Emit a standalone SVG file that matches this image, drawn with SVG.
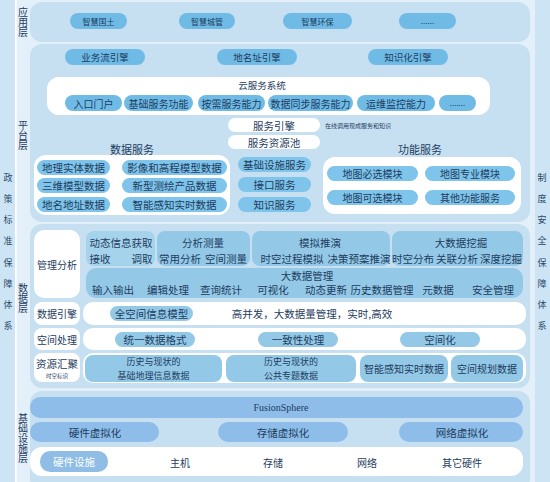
<svg xmlns="http://www.w3.org/2000/svg" width="550" height="482" viewBox="0 0 550 482">
<defs>
<style>
text{font-family:"Noto Sans CJK SC","Noto Sans",sans-serif;fill:#1e3c5e;font-size:10px;text-anchor:middle;dominant-baseline:central}
.panel{fill:#c6e0f2}
.btn{fill:#6fbbe6}
.btn2{fill:#7fc4ea}
.wh{fill:#ffffff}
.db{fill:#93c9e7}
.vb{fill:#8dbde8}
.strip{fill:#cde4f4}
.side{font-size:9px;fill:#2a4a6a}
.vert{font-size:10px;writing-mode:vertical-rl;text-anchor:start;dominant-baseline:central}
.s8{font-size:8px}
.s9{font-size:9px}
.s95{font-size:9.5px}
.s105{font-size:10.5px}
.s11{font-size:11px}
.tiny{font-size:6px;text-anchor:start}
.serif{font-family:"Liberation Serif",serif;font-size:10px}
</style>
</defs>
<rect x="0" y="0" width="550" height="482" fill="#e4f0f9"/>
<g id="left-strip">
<rect class="strip" x="0" y="0" width="15" height="482"/>
<rect x="15" y="0" width="1.5" height="482" fill="#ffffff"/>
<text class="side" x="8" y="177">政</text><text class="side" x="8" y="198">策</text><text class="side" x="8" y="219">标</text><text class="side" x="8" y="240">准</text><text class="side" x="8" y="262">保</text><text class="side" x="8" y="283">障</text><text class="side" x="8" y="304">体</text><text class="side" x="8" y="325">系</text>
</g>
<g id="right-strip">
<rect class="strip" x="535" y="0" width="15" height="482"/>
<text class="side" x="542" y="177">制</text><text class="side" x="542" y="198">度</text><text class="side" x="542" y="219">安</text><text class="side" x="542" y="240">全</text><text class="side" x="542" y="262">保</text><text class="side" x="542" y="283">障</text><text class="side" x="542" y="304">体</text><text class="side" x="542" y="325">系</text>
</g>
<g id="layer-labels">
<text class="vert" x="23" y="7">应用层</text>
<text class="vert" x="23" y="120">平台层</text>
<text class="vert" x="23" y="283">数据层</text>
<text class="vert" x="23" y="413">基础设施层</text>
</g>
<g id="app-layer">
<rect class="panel" x="30" y="2" width="500" height="40" rx="12"/>
<g id="app-1"><rect class="btn" x="70" y="13" width="57" height="16" rx="8"/><text class="s8" x="98.5" y="21">智慧国土</text></g>
<g id="app-2"><rect class="btn" x="179" y="13" width="56" height="16" rx="8"/><text class="s8" x="207" y="21">智慧城管</text></g>
<g id="app-3"><rect class="btn" x="283" y="13" width="69" height="16" rx="8"/><text class="s8" x="317.5" y="21">智慧环保</text></g>
<g id="app-4"><rect class="btn" x="399" y="13" width="57" height="16" rx="8"/><text class="s8" x="427.5" y="20">......</text></g>
</g>
<g id="platform-layer">
<rect class="panel" x="30" y="44" width="500" height="178" rx="12"/>
<g id="eng-1"><rect class="btn" x="65" y="49" width="80" height="16" rx="8"/><text class="s95" x="105" y="57">业务流引擎</text></g>
<g id="eng-2"><rect class="btn" x="217" y="49" width="80" height="16" rx="8"/><text class="s95" x="257" y="57">地名址引擎</text></g>
<g id="eng-3"><rect class="btn" x="368" y="49" width="80" height="16" rx="8"/><text class="s95" x="408" y="57">知识化引擎</text></g>
<g id="cloud">
<rect class="wh" x="47" y="77" width="443" height="38" rx="12"/>
<text class="s95" x="262" y="85">云服务系统</text>
<rect class="btn" x="65" y="95" width="57" height="16" rx="8"/><text x="93.5" y="103">入口门户</text>
<rect class="btn" x="124" y="95" width="69" height="16" rx="8"/><text x="158.5" y="103">基础服务功能</text>
<rect class="btn" x="198" y="95" width="67" height="16" rx="8"/><text x="231.5" y="103">按需服务能力</text>
<rect class="btn" x="268" y="95" width="85" height="16" rx="8"/><text x="310.5" y="103">数据同步服务能力</text>
<rect class="btn" x="357" y="95" width="78" height="16" rx="8"/><text x="396" y="103">运维监控能力</text>
<rect class="btn" x="439" y="95" width="37" height="16" rx="8"/><text class="s8" x="457.5" y="102">.......</text>
</g>
<g id="svc-engine"><rect class="wh" x="228" y="118" width="92" height="14" rx="7"/><text class="s105" x="274" y="125">服务引擎</text><text class="tiny" x="325" y="125">在线调用现成服务和知识</text></g>
<g id="svc-pool"><rect class="wh" x="228" y="135" width="92" height="14" rx="7"/><text class="s105" x="274" y="142">服务资源池</text></g>
<g id="data-services">
<text class="s11" x="132" y="149">数据服务</text>
<rect class="wh" x="34" y="155" width="196" height="60" rx="12"/>
<rect class="btn2" x="37" y="160" width="73" height="15" rx="7.5"/><text class="s105" x="73.5" y="167.5">地理实体数据</text>
<rect class="btn2" x="122" y="160" width="105" height="15" rx="7.5"/><text class="s105" x="174.5" y="167.5">影像和高程模型数据</text>
<rect class="btn2" x="37" y="178" width="73" height="15" rx="7.5"/><text class="s105" x="73.5" y="185.5">三维模型数据</text>
<rect class="btn2" x="122" y="178" width="105" height="15" rx="7.5"/><text class="s105" x="174.5" y="185.5">新型测绘产品数据</text>
<rect class="btn2" x="37" y="197" width="73" height="15" rx="7.5"/><text class="s105" x="73.5" y="204.5">地名地址数据</text>
<rect class="btn2" x="122" y="197" width="105" height="15" rx="7.5"/><text class="s105" x="174.5" y="204.5">智能感知实时数据</text>
</g>
<g id="mid-services">
<rect class="btn2" x="238" y="157" width="73" height="15" rx="7.5"/><text class="s105" x="274.5" y="164.5">基础设施服务</text>
<rect class="btn2" x="238" y="177" width="73" height="15" rx="7.5"/><text class="s105" x="274.5" y="184.5">接口服务</text>
<rect class="btn2" x="238" y="197" width="73" height="15" rx="7.5"/><text class="s105" x="274.5" y="204.5">知识服务</text>
</g>
<g id="func-services">
<text class="s11" x="420" y="149">功能服务</text>
<rect class="wh" x="323" y="157" width="198" height="57" rx="12"/>
<rect class="btn2" x="327" y="166" width="91" height="15" rx="7.5"/><text x="372.5" y="173.5">地图必选模块</text>
<rect class="btn2" x="425" y="166" width="90" height="15" rx="7.5"/><text x="470" y="173.5">地图专业模块</text>
<rect class="btn2" x="327" y="190" width="91" height="15" rx="7.5"/><text x="372.5" y="197.5">地图可选模块</text>
<rect class="btn2" x="425" y="190" width="90" height="15" rx="7.5"/><text x="470" y="197.5">其他功能服务</text>
</g>
</g>
<g id="data-layer">
<rect class="panel" x="30" y="224" width="500" height="164" rx="12"/>
<g id="mgmt">
<rect class="wh" x="34" y="230" width="46" height="68" rx="10"/><text x="57" y="264">管理分析</text>
<rect x="86" y="231" width="69" height="35" rx="8" style="fill:#a6d3ec"/>
<text class="s105" x="121" y="242">动态信息获取</text><text class="s105" x="100" y="258">接收</text><text class="s105" x="142" y="258">调取</text>
<rect class="db" x="157" y="231" width="93" height="35" rx="8"/>
<text class="s105" x="203" y="242">分析测量</text><text class="s105" x="180" y="258">常用分析</text><text class="s105" x="226" y="258">空间测量</text>
<rect class="db" x="252" y="231" width="138" height="35" rx="8"/>
<text class="s105" x="320" y="242">模拟推演</text><text class="s105" x="292" y="258">时空过程模拟</text><text class="s105" x="359" y="258">决策预案推演</text>
<rect class="db" x="392" y="231" width="131" height="35" rx="8"/>
<text class="s105" x="461" y="242">大数据挖掘</text><text class="s105" x="413" y="258">时空分布</text><text class="s105" x="457" y="258">关联分析</text><text class="s105" x="501" y="258">深度挖掘</text>
<rect class="db" x="86" y="268" width="437" height="30" rx="10"/>
<text class="s105" x="307" y="275">大数据管理</text>
<text class="s105" x="113" y="289">输入输出</text><text class="s105" x="168" y="289">编辑处理</text><text class="s105" x="221" y="289">查询统计</text><text class="s105" x="273" y="289">可视化</text><text class="s105" x="326" y="289">动态更新</text><text class="s105" x="382" y="289">历史数据管理</text><text class="s105" x="438" y="289">元数据</text><text class="s105" x="493" y="289">安全管理</text>
</g>
<g id="data-engine">
<rect class="wh" x="34" y="302" width="46" height="23" rx="8"/><text x="57" y="313.5">数据引擎</text>
<rect class="wh" x="83" y="302" width="443" height="23" rx="10"/>
<rect class="db" x="110" y="306" width="83" height="15" rx="7.5"/><text class="s105" x="151.5" y="313.5">全空间信息模型</text>
<text class="s105" x="312" y="313.5">高并发，大数据量管理，实时,高效</text>
</g>
<g id="spatial">
<rect class="wh" x="34" y="328" width="46" height="22" rx="8"/><text x="57" y="339">空间处理</text>
<rect class="wh" x="83" y="328" width="443" height="22" rx="10"/>
<rect class="db" x="115" y="332" width="80" height="15" rx="7.5"/><text class="s105" x="155" y="339.5">统一数据格式</text>
<rect class="db" x="258" y="332" width="80" height="15" rx="7.5"/><text class="s105" x="298" y="339.5">一致性处理</text>
<rect class="db" x="400" y="332" width="80" height="15" rx="7.5"/><text class="s105" x="440" y="339.5">空间化</text>
</g>
<g id="resource">
<rect class="wh" x="34" y="353" width="46" height="29" rx="8"/><text class="s105" x="57" y="363">资源汇聚</text><text x="57" y="376" style="font-size:5.5px">时空标识</text>
<rect class="wh" x="83" y="353" width="443" height="30" rx="10"/>
<rect class="db" x="85" y="355" width="137" height="27" rx="8"/><text class="s9" x="153.5" y="361.9">历史与现状的</text><text class="s9" x="153.5" y="375.1">基础地理信息数据</text>
<rect class="db" x="226" y="355" width="130" height="27" rx="8"/><text class="s9" x="291" y="361.9">历史与现状的</text><text class="s9" x="291" y="375.1">公共专题数据</text>
<rect class="db" x="360" y="355" width="88" height="27" rx="8"/><text x="404" y="368.5">智能感知实时数据</text>
<rect class="db" x="451" y="355" width="72" height="27" rx="8"/><text x="487" y="368.5">空间规划数据</text>
</g>
</g>
<g id="infra-layer">
<rect class="panel" x="30" y="391" width="500" height="100" rx="12"/>
<g id="fusionsphere"><rect class="vb" x="30" y="397" width="493" height="21" rx="10"/><text class="serif" x="281" y="407.5">FusionSphere</text></g>
<g id="virt-hw"><rect class="vb" x="30" y="422" width="129" height="20" rx="10"/><text class="s105" x="95" y="432">硬件虚拟化</text></g>
<g id="virt-st"><rect class="vb" x="218" y="422" width="130" height="20" rx="10"/><text class="s105" x="283" y="432">存储虚拟化</text></g>
<g id="virt-net"><rect class="vb" x="399" y="422" width="124" height="20" rx="10"/><text class="s105" x="462" y="432">网络虚拟化</text></g>
<g id="hardware">
<rect class="wh" x="30" y="447" width="493" height="29" rx="12"/>
<rect x="40" y="451" width="68" height="21" rx="10" fill="#8fbde6"/><text class="s105" x="74" y="461.5" style="fill:#ffffff">硬件设施</text>
<text x="180" y="462">主机</text><text x="273" y="462">存储</text><text x="367" y="462">网络</text><text x="462" y="462">其它硬件</text>
</g>
</g>
<g id="connectors"/>
</svg>
